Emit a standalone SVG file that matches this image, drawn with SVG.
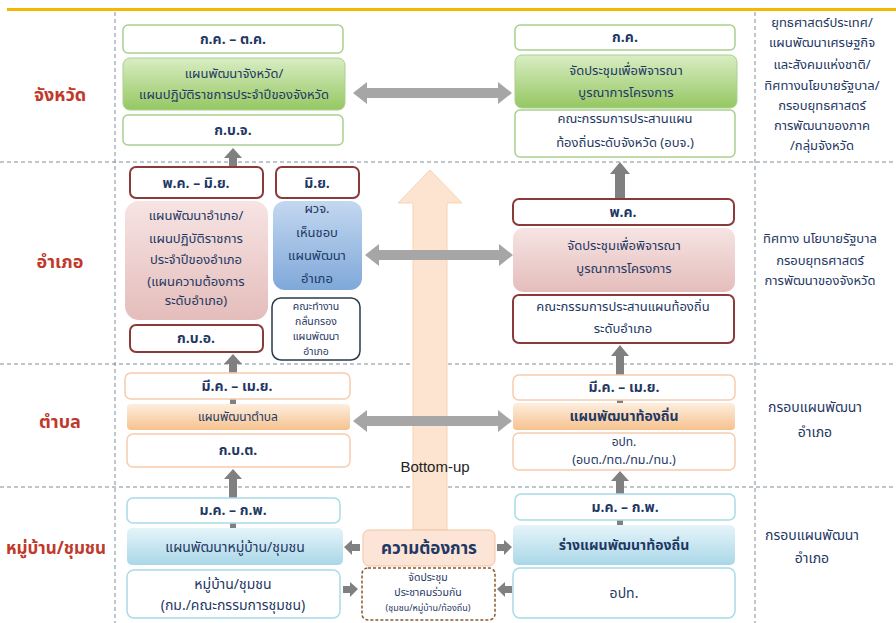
<svg xmlns="http://www.w3.org/2000/svg" width="896" height="623" viewBox="0 0 896 623">
<defs>
<linearGradient id="gGreen" x1="0" y1="0" x2="0" y2="1"><stop offset="0" stop-color="#D9EDC3"/><stop offset="1" stop-color="#95C762"/></linearGradient>
<linearGradient id="gPink" x1="0" y1="0" x2="0" y2="1"><stop offset="0" stop-color="#F6E4E3"/><stop offset="1" stop-color="#E4BDBB"/></linearGradient>
<linearGradient id="gBlue" x1="0" y1="0" x2="0" y2="1"><stop offset="0" stop-color="#C3D8F0"/><stop offset="1" stop-color="#7FA8D9"/></linearGradient>
<linearGradient id="gOrange" x1="0" y1="0" x2="0" y2="1"><stop offset="0" stop-color="#FDEEDF"/><stop offset="1" stop-color="#F6C28E"/></linearGradient>
<linearGradient id="gLBlue" x1="0" y1="0" x2="0" y2="1"><stop offset="0" stop-color="#E6F4F9"/><stop offset="1" stop-color="#A9D7E8"/></linearGradient>
<style>
text{font-family:"Noto Sans Thai","Noto Sans","DejaVu Sans",sans-serif;fill:#1F3864;text-anchor:middle}
.lvl{fill:#C0392B;font-weight:bold;font-size:18px}
.t{font-size:13px}
.d{font-size:14px;font-weight:bold}
.s{font-size:10.5px}
.r{font-size:13px}
.wg{fill:#FFFFFF;stroke:#A9D18E;stroke-width:1.5}
.wr{fill:#FFFFFF;stroke:#8B3A3A;stroke-width:2}
.wo{fill:#FFFFFF;stroke:#F8CBAD;stroke-width:1.5}
.wc{fill:#FFFFFF;stroke:#A8DCE6;stroke-width:1.5}
.grid{stroke:#7F8C99;stroke-width:1;stroke-dasharray:4 3;fill:none}
.ua{fill:#808080}
.da{fill:#A6A6A6}
</style>
</defs>
<rect x="0" y="0" width="896" height="623" fill="#FFFFFF"/>
<rect x="7" y="8" width="889" height="3" fill="#F5B800"/>
<g id="grid">
<line class="grid" x1="115" y1="12" x2="115" y2="623"/>
<line class="grid" x1="755" y1="12" x2="755" y2="623"/>
<line class="grid" x1="0" y1="162" x2="896" y2="162"/>
<line class="grid" x1="0" y1="364" x2="896" y2="364"/>
<line class="grid" x1="0" y1="487" x2="896" y2="487"/>
</g>
<g id="bottom-up">
<path d="M430,170 L462,203 L447,203 L447,530 L413,530 L413,203 L398,203 Z" fill="#FCE4D0" stroke="#F8D3B4" stroke-width="1"/>
<text x="435" y="472" style="font-family:'Liberation Sans',sans-serif;font-size:15px;fill:#222222">Bottom-up</text>
</g>
<g id="labels">
<text class="lvl" x="60" y="101">จังหวัด</text>
<text class="lvl" x="60" y="268">อำเภอ</text>
<text class="lvl" x="60" y="428">ตำบล</text>
<text class="lvl" x="56" y="554" style="font-size:17px">หมู่บ้าน/ชุมชน</text>
</g>
<g id="connectors">
<path class="da" d="M353,93 L367,82 L367,88 L498,88 L498,82 L512,93 L498,104 L498,98 L367,98 L367,104 Z"/>
<path class="da" d="M365,255 L379,244 L379,250 L499,250 L499,244 L513,255 L499,266 L499,260 L379,260 L379,266 Z"/>
<path class="da" d="M353,421 L367,410 L367,416 L498,416 L498,410 L512,421 L498,432 L498,426 L367,426 L367,432 Z"/>
<path class="ua" d="M233,148 L242,158 L237,158 L237,167 L229,167 L229,158 L224,158 Z"/>
<path class="ua" d="M233,354 L242,364 L237,364 L237,373 L229,373 L229,364 L224,364 Z"/>
<path class="ua" d="M233,469 L242,479 L237,479 L237,498 L229,498 L229,479 L224,479 Z"/>
<path class="ua" d="M620,162 L630,174 L625,174 L625,199 L615,199 L615,174 L610,174 Z"/>
<path class="ua" d="M620,345 L629,356 L624,356 L624,375 L616,375 L616,356 L611,356 Z"/>
<path class="ua" d="M620,471 L629,481 L624,481 L624,494 L616,494 L616,481 L611,481 Z"/>
<rect class="ua" x="230" y="399" width="6" height="5"/>
<rect class="ua" x="230" y="523" width="6" height="5"/>
<rect class="ua" x="617" y="400" width="6" height="3"/>
<rect class="ua" x="617" y="520" width="6" height="5"/>
<path class="ua" d="M344,547 L352,540 L352,544 L360,544 L360,551 L352,551 L352,555 Z"/>
<path class="ua" d="M512,547 L504,540 L504,544 L497,544 L497,551 L504,551 L504,555 Z"/>
<path class="ua" d="M358,589 L350,582 L350,586 L343,586 L343,593 L350,593 L350,597 Z"/>
<path class="ua" d="M497,589 L505,582 L505,586 L512,586 L512,593 L505,593 L505,597 Z"/>
</g>
<g id="n-prov-date">
<rect class="wg" x="123" y="25" width="220" height="28" rx="5"/>
<text class="d" x="233" y="44">ก.ค. – ต.ค.</text>
</g>
<g id="n-prov-plan">
<rect x="123" y="58" width="222" height="52" rx="7" fill="url(#gGreen)" stroke="#A9D18E"/>
<text class="t" x="234" y="78">แผนพัฒนาจังหวัด/</text>
<text class="t" x="234" y="99">แผนปฏิบัติราชการประจำปีของจังหวัด</text>
</g>
<g id="n-prov-committee">
<rect class="wg" x="123" y="115" width="220" height="30" rx="5"/>
<text class="d" x="233" y="135">ก.บ.จ.</text>
</g>
<g id="n-prov-r-date">
<rect class="wg" x="515" y="25" width="220" height="25" rx="5"/>
<text class="d" x="625" y="42">ก.ค.</text>
</g>
<g id="n-prov-r-meeting">
<rect x="515" y="55" width="222" height="53" rx="7" fill="url(#gGreen)" stroke="#A9D18E"/>
<text class="t" x="626" y="75">จัดประชุมเพื่อพิจารณา</text>
<text class="t" x="626" y="97">บูรณาการโครงการ</text>
</g>
<g id="n-prov-r-committee">
<rect class="wg" x="515" y="110" width="220" height="47" rx="5"/>
<text class="t" x="625" y="123">คณะกรรมการประสานแผน</text>
<text class="t" x="625" y="147">ท้องถิ่นระดับจังหวัด (อบจ.)</text>
</g>
<g id="n-prov-policy">
<text class="r" x="822" y="27">ยุทธศาสตร์ประเทศ/</text>
<text class="r" x="822" y="47">แผนพัฒนาเศรษฐกิจ</text>
<text class="r" x="822" y="69">และสังคมแห่งชาติ/</text>
<text class="r" x="822" y="90">ทิศทางนโยบายรัฐบาล/</text>
<text class="r" x="822" y="110">กรอบยุทธศาสตร์</text>
<text class="r" x="822" y="130">การพัฒนาของภาค</text>
<text class="r" x="822" y="150">/กลุ่มจังหวัด</text>
</g>
<g id="n-amp-date">
<rect class="wr" x="130" y="167" width="133" height="31" rx="6"/>
<text class="d" x="196" y="188">พ.ค. – มิ.ย.</text>
</g>
<g id="n-amp-date2">
<rect class="wr" x="276" y="167" width="83" height="31" rx="6"/>
<text class="d" x="317" y="188">มิ.ย.</text>
</g>
<g id="n-amp-plan">
<rect x="125" y="201" width="143" height="119" rx="14" fill="url(#gPink)"/>
<text class="t" x="196" y="220">แผนพัฒนาอำเภอ/</text>
<text class="t" x="196" y="243">แผนปฏิบัติราชการ</text>
<text class="t" x="196" y="264">ประจำปีของอำเภอ</text>
<text class="t" x="196" y="286">(แผนความต้องการ</text>
<text class="t" x="196" y="305">ระดับอำเภอ)</text>
</g>
<g id="n-amp-committee">
<rect class="wr" x="130" y="325" width="133" height="27" rx="6"/>
<text class="d" x="196" y="343">ก.บ.อ.</text>
</g>
<g id="n-amp-approve">
<rect x="273" y="201" width="89" height="89" rx="12" fill="url(#gBlue)"/>
<text class="t" x="317" y="213">ผวจ.</text>
<text class="t" x="317" y="237">เห็นชอบ</text>
<text class="t" x="317" y="260">แผนพัฒนา</text>
<text class="t" x="317" y="283">อำเภอ</text>
</g>
<g id="n-amp-screen">
<rect x="272" y="298" width="88" height="62" rx="9" fill="#FFFFFF" stroke="#2A3A4A" stroke-width="1.5"/>
<text class="s" x="316" y="310">คณะทำงาน</text>
<text class="s" x="316" y="325">กลั่นกรอง</text>
<text class="s" x="316" y="340">แผนพัฒนา</text>
<text class="s" x="316" y="355">อำเภอ</text>
</g>
<g id="n-amp-r-date">
<rect class="wr" x="513" y="199" width="221" height="26" rx="6"/>
<text class="d" x="623" y="217">พ.ค.</text>
</g>
<g id="n-amp-r-meeting">
<rect x="513" y="228" width="222" height="64" rx="10" fill="url(#gPink)"/>
<text class="t" x="624" y="250">จัดประชุมเพื่อพิจารณา</text>
<text class="t" x="624" y="273">บูรณาการโครงการ</text>
</g>
<g id="n-amp-r-committee">
<rect class="wr" x="513" y="295" width="221" height="48" rx="6"/>
<text class="t" x="623" y="311">คณะกรรมการประสานแผนท้องถิ่น</text>
<text class="t" x="623" y="333">ระดับอำเภอ</text>
</g>
<g id="n-amp-policy">
<text class="r" x="820" y="243">ทิศทาง นโยบายรัฐบาล</text>
<text class="r" x="820" y="265">กรอบยุทธศาสตร์</text>
<text class="r" x="820" y="285">การพัฒนาของจังหวัด</text>
</g>
<g id="n-tam-date">
<rect class="wo" x="125" y="373" width="225" height="26" rx="6"/>
<text class="d" x="237" y="391">มี.ค. – เม.ย.</text>
</g>
<g id="n-tam-plan">
<rect x="127" y="404" width="223" height="26" rx="4" fill="url(#gOrange)"/>
<text class="t" x="238" y="421" style="font-size:12px">แผนพัฒนาตำบล</text>
</g>
<g id="n-tam-committee">
<rect class="wo" x="127" y="434" width="223" height="33" rx="6"/>
<text class="d" x="238" y="455">ก.บ.ต.</text>
</g>
<g id="n-tam-r-date">
<rect class="wo" x="513" y="375" width="222" height="25" rx="6"/>
<text class="d" x="624" y="392">มี.ค. – เม.ย.</text>
</g>
<g id="n-tam-r-plan">
<rect x="513" y="403" width="222" height="27" rx="4" fill="url(#gOrange)"/>
<text class="d" x="624" y="421">แผนพัฒนาท้องถิ่น</text>
</g>
<g id="n-tam-r-lao">
<rect class="wo" x="513" y="433" width="222" height="37" rx="6"/>
<text class="t" x="624" y="446" style="font-size:12px">อปท.</text>
<text class="t" x="624" y="464" style="font-size:12.5px">(อบต./ทต./ทม./ทน.)</text>
</g>
<g id="n-tam-policy">
<text class="r" x="815" y="412" style="font-size:14px">กรอบแผนพัฒนา</text>
<text class="r" x="815" y="437" style="font-size:14px">อำเภอ</text>
</g>
<g id="n-vil-date">
<rect class="wc" x="127" y="498" width="213" height="25" rx="6"/>
<text class="d" x="233" y="515">ม.ค. – ก.พ.</text>
</g>
<g id="n-vil-plan">
<rect x="127" y="528" width="216" height="37" rx="5" fill="url(#gLBlue)"/>
<text class="t" x="235" y="552" style="font-size:14px">แผนพัฒนาหมู่บ้าน/ชุมชน</text>
</g>
<g id="n-vil-community">
<rect class="wc" x="127" y="570" width="213" height="48" rx="7"/>
<text class="t" x="233" y="589" style="font-size:14px">หมู่บ้าน/ชุมชน</text>
<text class="t" x="233" y="610" style="font-size:14px">(กม./คณะกรรมการชุมชน)</text>
</g>
<g id="n-need">
<rect x="363" y="530" width="132" height="36" rx="6" fill="#FCE4D6" stroke="#F4C3A0"/>
<text x="429" y="554" style="font-size:17px;font-weight:bold">ความต้องการ</text>
</g>
<g id="n-forum">
<rect x="362" y="568" width="133" height="52" rx="6" fill="#FFFFFF" stroke="#8B5A2B" stroke-width="1.5" stroke-dasharray="3 2"/>
<text x="428" y="581" style="font-size:10.5px">จัดประชุม</text>
<text x="428" y="596" style="font-size:10.5px">ประชาคมร่วมกัน</text>
<text x="428" y="611" style="font-size:9px">(ชุมชน/หมู่บ้าน/ท้องถิ่น)</text>
</g>
<g id="n-vil-r-date">
<rect class="wc" x="515" y="494" width="220" height="26" rx="6"/>
<text class="d" x="625" y="512">ม.ค. – ก.พ.</text>
</g>
<g id="n-vil-r-draft">
<rect x="513" y="525" width="222" height="40" rx="5" fill="url(#gLBlue)"/>
<text class="t" x="624" y="550" style="font-size:14px;font-weight:bold">ร่างแผนพัฒนาท้องถิ่น</text>
</g>
<g id="n-vil-r-lao">
<rect class="wc" x="513" y="568" width="222" height="50" rx="7"/>
<text class="t" x="624" y="598" style="font-size:14px">อปท.</text>
</g>
<g id="n-vil-policy">
<text class="r" x="812" y="540" style="font-size:14px">กรอบแผนพัฒนา</text>
<text class="r" x="812" y="563" style="font-size:14px">อำเภอ</text>
</g>
</svg>
